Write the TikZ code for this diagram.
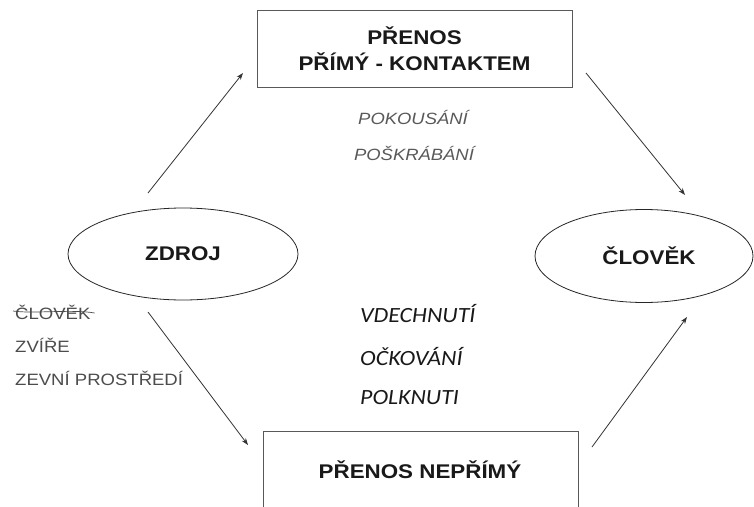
\documentclass[tikz,border=0pt]{standalone}
\usepackage{fontspec}
\usetikzlibrary{shapes.geometric,arrows.meta}
\newfontfamily\arialS[FakeStretch=1.13]{Liberation Sans}
\newfontfamily\calS[FakeStretch=1.1]{Carlito}
\begin{document}
\begin{tikzpicture}[x=1pt,y=-1pt,
  boxnode/.style={draw=black!65,line width=0.9pt,minimum width=315pt,inner sep=0pt},
  ellnode/.style={draw=black!85,ellipse,line width=0.8pt,inner sep=0pt},
  boldtxt/.style={font=\arialS\bfseries\fontsize{19.8}{26}\selectfont,text=black!90},
  grayit/.style={font=\arialS\itshape\fontsize{16.3}{18}\selectfont,text=black!65},
  listtxt/.style={font=\arialS\fontsize{16.4}{18}\selectfont,text=black!70,anchor=west,inner sep=0pt},
  calit/.style={font=\calS\itshape\fontsize{21.7}{24}\selectfont,text=black!90,anchor=west,inner sep=0pt},
  conn/.style={draw=black!80,line width=0.8pt,-{Stealth[length=7pt,width=5pt]}}]
\useasboundingbox (0,0) rectangle (754,506);
\clip (0,0) rectangle (754,506);
\fill[white] (0,0) rectangle (754,506);

% boxes
\node[boxnode,boldtxt,minimum height=77pt,align=center] (top) at (414.5,48.5) {PŘENOS\\PŘÍMÝ - KONTAKTEM};
\node[boxnode,minimum height=80pt] (bot) at (420.5,471) {};
\node[boldtxt] (bottxt) at (420,470) {PŘENOS NEPŘÍMÝ};

% ellipses
\node[ellnode,boldtxt,minimum width=230pt,minimum height=92pt] (zdroj) at (183,254) {ZDROJ};
\node[ellnode,boldtxt,minimum width=218pt,minimum height=93pt] (clovek) at (644,256) {\hspace*{10pt}ČLOVĚK};

% gray italic labels
\node[grayit] (pok) at (413,118) {POKOUSÁNÍ};
\node[grayit] (posk) at (414,153) {POŠKRÁBÁNÍ};

% left list
\node[listtxt] (cl) at (15,312) {ČLOVĚK};
\node[listtxt] (zv) at (15,345) {ZVÍŘE};
\node[listtxt] (ze) at (15,378) {ZEVNÍ PROSTŘEDÍ};
\draw[black!70,line width=0.7pt] ([xshift=-2pt,yshift=1pt]cl.west) .. controls ([xshift=-20pt,yshift=-2pt]cl.center) and ([xshift=20pt,yshift=3pt]cl.center) .. ([xshift=4pt,yshift=-1pt]cl.east);

% italic Carlito labels
\node[calit] (vd) at (360,314) {VDECHNUTÍ};
\node[calit] (oc) at (360,357) {OČKOVÁNÍ};
\node[calit] (po) at (360,398) {POLKNUTI};

% connector endpoints
\coordinate (a1s) at (148,193); \coordinate (a1e) at (243,73);
\coordinate (a2s) at (148,312); \coordinate (a2e) at (248,445);
\coordinate (a3s) at (586,73);  \coordinate (a3e) at (685,195);
\coordinate (a4s) at (592,447); \coordinate (a4e) at (687,317);

\draw[conn] (a1s) -- (a1e);
\draw[conn] (a2s) -- (a2e);
\draw[conn] (a3s) -- (a3e);
\draw[conn] (a4s) -- (a4e);
\end{tikzpicture}
\end{document}
